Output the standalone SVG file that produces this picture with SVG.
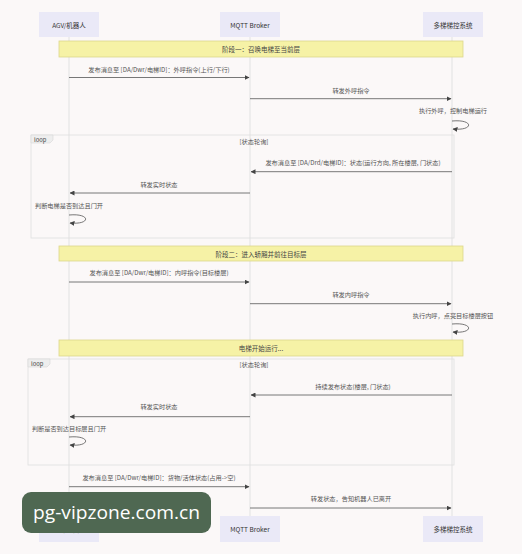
<svg xmlns="http://www.w3.org/2000/svg" width="522" height="554" viewBox="0 0 522 554">
<style>
text{font-family:"Noto Sans CJK SC","Liberation Sans",sans-serif;}
.actor{fill:#eae9f7;stroke:none;}
.atext{font-size:6.5px;fill:#333;text-anchor:middle;dominant-baseline:central;}
.life{stroke:#dcdcdc;stroke-width:0.8;}
.msg{stroke:#555;stroke-width:0.8;fill:none;}
.mtext{font-size:6.2px;fill:#555;text-anchor:middle;dominant-baseline:central;}
.note{fill:#f6f2a6;stroke:#ddd68c;stroke-width:0.8;}
.ntext{font-size:6.5px;fill:#444;text-anchor:middle;dominant-baseline:central;}
.loopf{fill:none;stroke:#dedede;stroke-width:0.8;}
.lbl{fill:#eeeeee;stroke:#d6d6d6;stroke-width:0.6;}
.ltext{font-size:5.8px;fill:#444;dominant-baseline:central;}
.wm{fill:#4f6852;}
.wmt{font-family:"Open Sans","DejaVu Sans",sans-serif;font-size:19px;fill:#ffffff;}
</style>
<defs>
<marker id="ah" viewBox="0 0 10 10" refX="9" refY="5" markerWidth="5" markerHeight="5" orient="auto" markerUnits="userSpaceOnUse">
<path d="M0,0 L10,5 L0,10 z" fill="#444"/>
</marker>
</defs>
<rect width="522" height="554" fill="#fbf8f8"/>

<g id="lifelines">
<line class="life" x1="69" y1="37" x2="69" y2="516"/>
<line class="life" x1="250" y1="37" x2="250" y2="516"/>
<line class="life" x1="452" y1="37" x2="452" y2="516"/>
</g>

<g id="actor-agv-top"><rect class="actor" x="39" y="12" width="60" height="25"/><text class="atext" x="69" y="25">AGV/机器人</text></g>
<g id="actor-mqtt-top"><rect class="actor" x="220" y="12" width="60" height="25"/><text class="atext" x="250" y="25">MQTT Broker</text></g>
<g id="actor-sys-top"><rect class="actor" x="423" y="12" width="60" height="25"/><text class="atext" x="453" y="25">多梯梯控系统</text></g>

<g id="loop1"><rect class="loopf" x="31" y="135" width="423" height="103"/><path class="lbl" d="M31,135 H53 V140 L50,143 H31 z"/><text class="ltext" x="34" y="139">loop</text><text class="mtext" x="254" y="141">[状态轮询]</text></g>
<g id="loop2"><rect class="loopf" x="28" y="359" width="426" height="106"/><path class="lbl" d="M28,359 H50 V364 L47,367 H28 z"/><text class="ltext" x="31" y="363.5">loop</text><text class="mtext" x="254" y="364">[状态轮询]</text></g>

<g id="note1"><rect class="note" x="59" y="41" width="404" height="16"/><text class="ntext" x="261" y="49">阶段一：召唤电梯至当前层</text></g>
<g id="note2"><rect class="note" x="59" y="246" width="404" height="15"/><text class="ntext" x="261" y="253.5">阶段二：进入轿厢并前往目标层</text></g>
<g id="note3"><rect class="note" x="59" y="340" width="404" height="16"/><text class="ntext" x="261" y="348">电梯开始运行...</text></g>

<g id="connectors">
<line class="msg" x1="69" y1="77.5" x2="249" y2="77.5" marker-end="url(#ah)"/>
<text class="mtext" x="159" y="69">发布消息至 [DA/Dwr/电梯ID]：外呼指令(上行/下行)</text>
<line class="msg" x1="250" y1="98.7" x2="451" y2="98.7" marker-end="url(#ah)"/>
<text class="mtext" x="351" y="90">转发外呼指令</text>
<path class="msg" d="M452,121 C474,119 474,131 453,129" marker-end="url(#ah)"/>
<text class="mtext" x="453" y="110.7">执行外呼，控制电梯运行</text>

<line class="msg" x1="452" y1="171.7" x2="251" y2="171.7" marker-end="url(#ah)"/>
<text class="mtext" x="353" y="162">发布消息至 [DA/Drd/电梯ID]：状态(运行方向, 所在楼层, 门状态)</text>
<line class="msg" x1="250" y1="193" x2="70" y2="193" marker-end="url(#ah)"/>
<text class="mtext" x="159" y="184">转发实时状态</text>
<path class="msg" d="M69,215 C91,213 91,225 70,223" marker-end="url(#ah)"/>
<text class="mtext" x="69" y="205">判断电梯是否到达且门开</text>

<line class="msg" x1="69" y1="282" x2="249" y2="282" marker-end="url(#ah)"/>
<text class="mtext" x="159" y="272">发布消息至 [DA/Dwr/电梯ID]：内呼指令(目标楼层)</text>
<line class="msg" x1="250" y1="303.7" x2="451" y2="303.7" marker-end="url(#ah)"/>
<text class="mtext" x="351" y="294">转发内呼指令</text>
<path class="msg" d="M452,324 C474,322 474,334 453,332" marker-end="url(#ah)"/>
<text class="mtext" x="453" y="315">执行内呼，点亮目标楼层按钮</text>

<line class="msg" x1="452" y1="395" x2="251" y2="395" marker-end="url(#ah)"/>
<text class="mtext" x="353" y="386">持续发布状态(楼层, 门状态)</text>
<line class="msg" x1="250" y1="416.7" x2="70" y2="416.7" marker-end="url(#ah)"/>
<text class="mtext" x="159" y="406.7">转发实时状态</text>
<path class="msg" d="M69,437 C91,435 91,447 70,445" marker-end="url(#ah)"/>
<text class="mtext" x="69" y="428">判断是否到达目标层且门开</text>

<line class="msg" x1="69" y1="486.7" x2="249" y2="486.7" marker-end="url(#ah)"/>
<text class="mtext" x="159" y="477">发布消息至 [DA/Dwr/电梯ID]：货物/活体状态(占用-&gt;空)</text>
<line class="msg" x1="250" y1="508" x2="451" y2="508" marker-end="url(#ah)"/>
<text class="mtext" x="351" y="498">转发状态，告知机器人已离开</text>
</g>

<g id="actor-agv-bottom"><rect class="actor" x="39" y="516" width="60" height="26"/><text class="atext" x="69" y="529">AGV/机器人</text></g>
<g id="actor-mqtt-bottom"><rect class="actor" x="220" y="516" width="60" height="26"/><text class="atext" x="250" y="529">MQTT Broker</text></g>
<g id="actor-sys-bottom"><rect class="actor" x="423" y="516" width="60" height="26"/><text class="atext" x="453" y="529">多梯梯控系统</text></g>

<g id="watermark"><rect class="wm" x="22" y="492" width="189" height="41" rx="9"/><text class="wmt" x="33" y="519" textLength="167" lengthAdjust="spacingAndGlyphs">pg-vipzone.com.cn</text></g>
</svg>
